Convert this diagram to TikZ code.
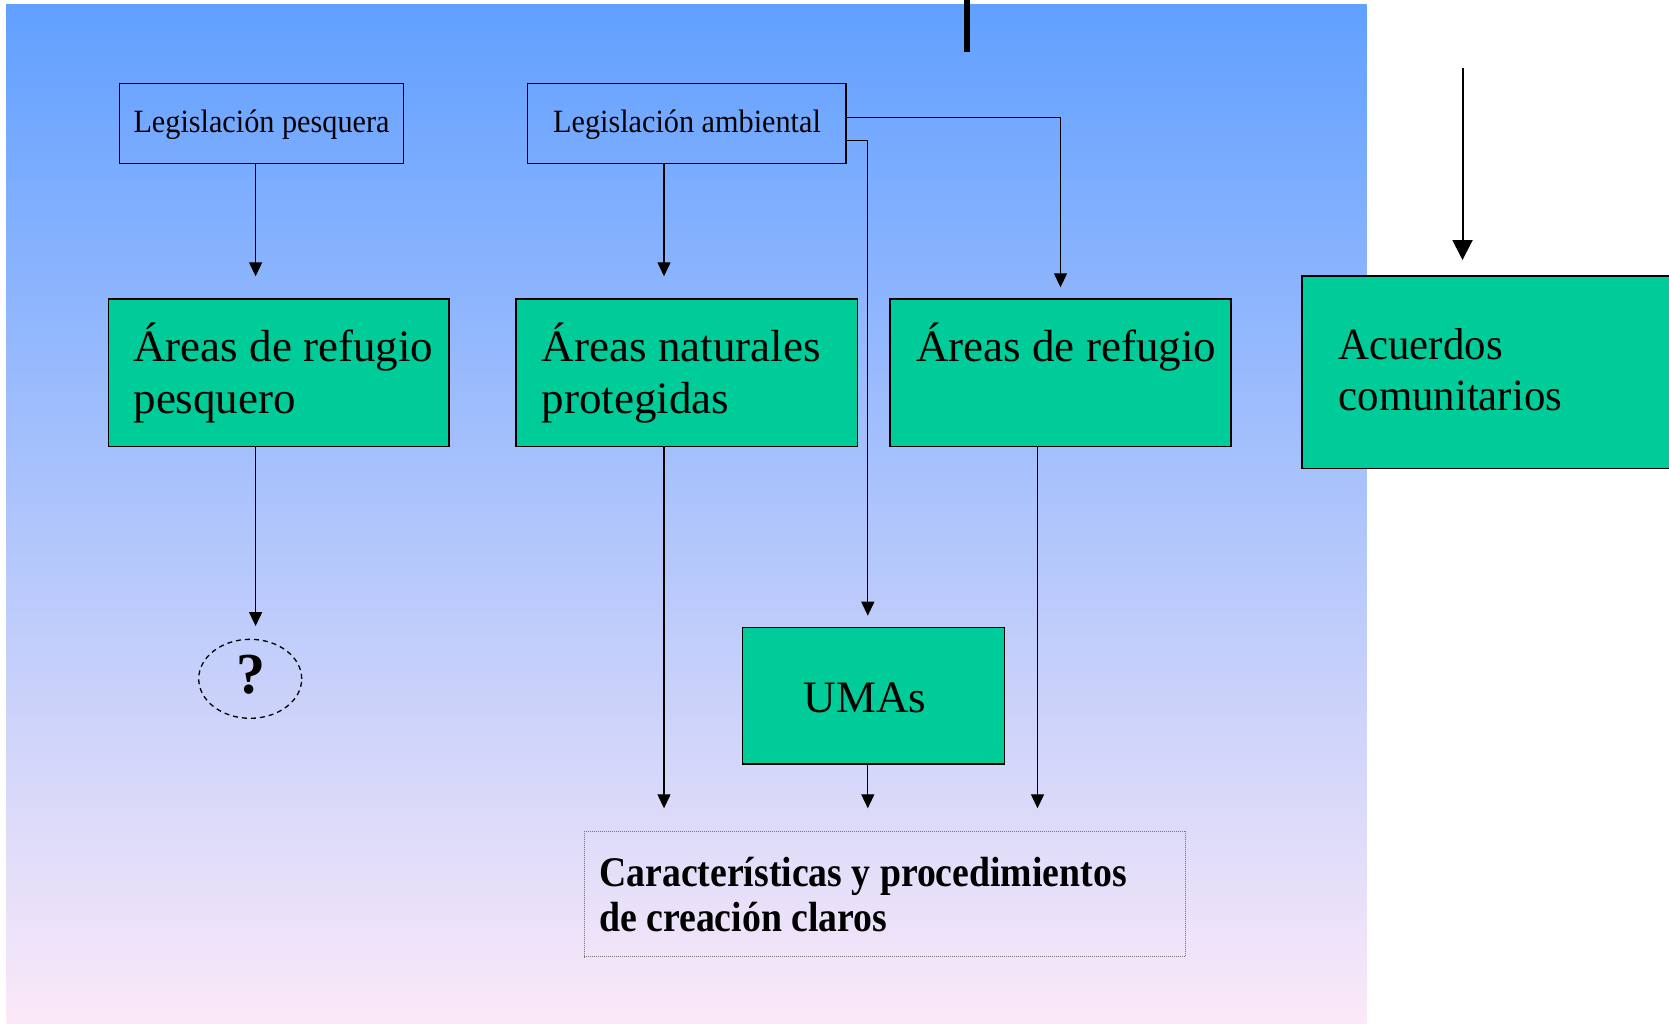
\documentclass[tikz,border=0pt]{standalone}
\usepackage{fontspec}
\setmainfont{Liberation Serif}
\newfontfamily\legfont[FakeStretch=0.93]{Liberation Serif}
\newfontfamily\bigfont{Liberation Serif}
\newfontfamily\acufont[FakeStretch=0.96]{Liberation Serif}
\newfontfamily\boldfont[FakeStretch=0.894]{Liberation Serif}
\usetikzlibrary{arrows.meta,shapes.geometric}
\definecolor{boxgreen}{RGB}{0,204,153}
\definecolor{bgtop}{RGB}{97,160,255}
\definecolor{bgmid}{RGB}{166,197,236}
\definecolor{bgbot}{RGB}{251,233,248}
\begin{document}
\begin{tikzpicture}[x=1pt,y=-1pt,
  box/.style={anchor=north west, inner sep=0pt, outer sep=0pt, line width=1.4pt, draw=black},
  legbox/.style={box},
  greenbox/.style={box, fill=boxgreen},
  legtext/.style={anchor=base, inner sep=0pt, font=\legfont\fontsize{32.5}{38}\selectfont},
  bigtext/.style={anchor=base west, inner sep=0pt, font=\bigfont\fontsize{45}{52}\selectfont},
  arr/.style={-{Triangle[length=14pt,width=13pt]}, line width=1.3pt},
  bigarr/.style={-{Triangle[length=20pt,width=20pt]}, line width=2pt}]
\path[use as bounding box] (0,0) rectangle (1669,1023);
\clip (0,0) rectangle (1669,1023);
\fill[white] (0,0) rectangle (1669,1023);
\shade[top color=bgtop, middle color=bgmid, bottom color=bgbot] (6,4) rectangle (1366.7,1023);

% x positions of the connectors
\coordinate (x1) at (255.6,0);
\coordinate (x2) at (664,0);
\coordinate (x4) at (867.8,0);
\coordinate (x5) at (1037.5,0);
\coordinate (yA) at (0,117.7);
\coordinate (yB) at (0,140.3);

% boxes
\node[legbox, minimum width=284.3pt, minimum height=80pt] (legp) at (119.4,83.7) {};
\node[legbox, minimum width=318.4pt, minimum height=80pt] (amb) at (527.6,83.7) {};
\node[greenbox, minimum width=340.7pt, minimum height=147.7pt] (ref1) at (108.3,299) {};
\node[greenbox, minimum width=341.3pt, minimum height=147.7pt] (anp) at (516,299) {};
\node[greenbox, minimum width=341pt, minimum height=147.7pt] (ref2) at (890,299) {};
\node[greenbox, minimum width=420pt, minimum height=192.3pt] (acu) at (1302.1,276) {};
\node[greenbox, minimum width=261.6pt, minimum height=136.3pt] (umas) at (742.7,627.7) {};
\node[anchor=north west, inner sep=0pt, outer sep=0pt, draw=black!55, line width=1pt,
      dash pattern=on 1pt off 1pt, minimum width=601.4pt, minimum height=125.7pt] (dot) at (584.4,831) {};
\node[ellipse, draw=black, line width=1.3pt, dash pattern=on 5pt off 4pt, inner sep=0pt,
      minimum width=103pt, minimum height=79pt] (q) at (250.2,678.8) {};

% texts
\node[legtext] (legpt) at (261.5,132.7) {Legislación pesquera};
\node[legtext] (ambt) at (687,132.7) {Legislación ambiental};
\node[bigtext] (ref1t) at (133.3,361.7) {\begin{tabular}[t]{@{}l@{}}Áreas de refugio\\pesquero\end{tabular}};
\node[bigtext] (anpt) at (541.7,361.7) {\begin{tabular}[t]{@{}l@{}}Áreas naturales\\protegidas\end{tabular}};
\node[bigtext] (ref2t) at (916,361.7) {Áreas de refugio};
\node[anchor=base west, inner sep=0pt, font=\acufont\fontsize{44.6}{51}\selectfont] (acut) at (1338.4,359) {\begin{tabular}[t]{@{}l@{}}Acuerdos\\comunitarios\end{tabular}};
\node[bigtext] (umast) at (803.3,712.7) {UMAs};
\node[anchor=base west, inner sep=0pt, font=\boldfont\bfseries\fontsize{42.2}{45}\selectfont] (dott) at (599.1,886.7)
  {\begin{tabular}[t]{@{}l@{}}Características y procedimientos\\de creación claros\end{tabular}};
\node[anchor=base, inner sep=0pt, font=\bfseries\fontsize{58}{60}\selectfont] (qt) at (250.8,693.3) {?};

% connectors
\draw[arr, shorten >=22.7pt] (legp.south -| x1) -- (ref1.north -| x1);
\draw[arr, shorten >=12.6pt] (ref1.south -| x1) -- (q.north -| x1);
\draw[arr, shorten >=22.7pt] (amb.south -| x2) -- (anp.north -| x2);
\draw[arr, shorten >=11.7pt] (amb.east |- yA) -| (ref2.north);
\draw[arr, shorten >=12pt] (amb.east |- yB) -| (umas.north -| x4);
\draw[arr, shorten >=22.7pt] (anp.south -| x2) -- (dot.north -| x2);
\draw[arr, shorten >=22.7pt] (umas.south -| x4) -- (dot.north -| x4);
\draw[arr, shorten >=22.7pt] (ref2.south -| x5) -- (dot.north -| x5);

\coordinate (acuin) at (1462.5,67.7);
\draw[bigarr, shorten >=16pt] (acuin) -- (acu.north -| acuin);

\coordinate (topa) at (966.5,-4);
\coordinate (topb) at (966.5,52);
\draw[line width=6pt] (topa) -- (topb);
\end{tikzpicture}
\end{document}
